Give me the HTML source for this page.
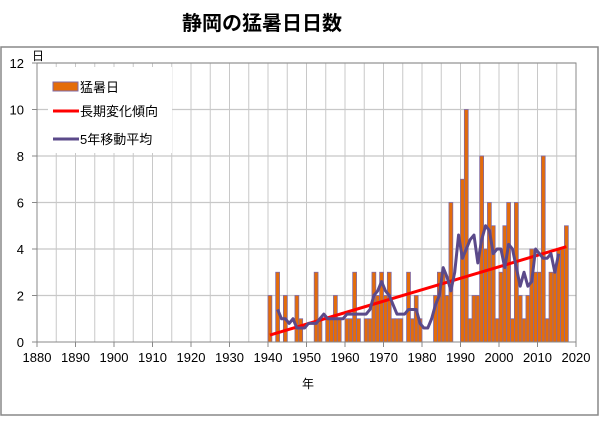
<!DOCTYPE html>
<html><head><meta charset="utf-8">
<style>
body{margin:0;background:#fff;width:600px;height:416px;overflow:hidden;font-family:"Liberation Sans","Noto Sans CJK JP",sans-serif;}
svg text{font-family:"Liberation Sans","Noto Sans CJK JP",sans-serif;}
</style></head>
<body>
<svg id="chart" width="600" height="416" xmlns="http://www.w3.org/2000/svg">
<text x="262" y="30" text-anchor="middle" font-size="20" font-weight="bold" fill="#000">静岡の猛暑日日数</text>
<rect x="1" y="47" width="597" height="368" fill="none" stroke="#888" stroke-width="1.5"/>
<g id="grid"></g>
<g id="bars"></g>
<g id="lines"></g>
<g id="axes"></g>
<g id="legend">
<rect x="48" y="67" width="124" height="86" fill="#fff"/>
<g><rect x="53" y="82" width="25" height="9" fill="#E46C0A" stroke="#7F6AA6"/><text x="80" y="92" font-size="13">猛暑日</text></g>
<g><line x1="53" y1="111" x2="79" y2="111" stroke="#FF0000" stroke-width="3"/><text x="80" y="116" font-size="13">長期変化傾向</text></g>
<g><line x1="53" y1="139" x2="79" y2="139" stroke="#5B4A8A" stroke-width="3"/><text x="80" y="144" font-size="13">5年移動平均</text></g>
</g>
</svg>
<script>
const years = [];
for (let y = 1940; y <= 2017; y++) years.push(y);
const days = [2,0,3,0,2,0,0,2,1,0, 0,0,3,1,0,1,1,2,1,0, 1,1,3,1,0,1,1,3,2,3, 2,3,1,1,1,0,3,1,2,1, 0,0,0,2,3,3,2,6,0,0, 7,10,1,2,2,8,4,6,5,1, 3,5,6,1,6,2,1,2,4,3, 3,8,1,3,3,4,4,5];
const trendYears = [1940, 2017];
const trendValues = [0.3, 4.1];
const yTicks = [0,2,4,6,8,10,12];
const xTicks = [1880,1890,1900,1910,1920,1930,1940,1950,1960,1970,1980,1990,2000,2010,2020];

const X0=37, X1=576, Y0=342, Y1=63;
const xs = v => X0 + (v-1880)*(X1-X0)/140;
const ys = v => Y0 - v*(Y0-Y1)/12;
const NS="http://www.w3.org/2000/svg";
function mk(tag, attrs, parent){const e=document.createElementNS(NS,tag);for(const k in attrs)e.setAttribute(k,attrs[k]);parent.appendChild(e);return e;}
const grid=document.getElementById('grid'), bars=document.getElementById('bars'), lines=document.getElementById('lines'), axes=document.getElementById('axes');
mk('rect',{x:X0,y:Y1,width:X1-X0,height:Y0-Y1,fill:'#fff'},grid);
for(let y=1885;y<2020;y+=5){const l=mk('line',{x1:xs(y),x2:xs(y),y1:Y1,y2:Y0,stroke:'#c8c8c8','stroke-width':1},grid);

}
yTicks.forEach(v=>{if(v>0){const l=mk('line',{x1:X0,x2:X1,y1:ys(v),y2:ys(v),stroke:'#c8c8c8','stroke-width':1.2},grid);

}
const tk=mk('line',{x1:X0-5,x2:X0,y1:ys(v),y2:ys(v),stroke:'#888'},axes);


const t=mk('text',{x:24,y:ys(v)+5,'text-anchor':'end','font-size':13,fill:'#000'},axes);t.textContent=v;

});
xTicks.forEach(v=>{const tk=mk('line',{x1:xs(v),x2:xs(v),y1:Y0,y2:Y0+5,stroke:'#888'},axes);


const t=mk('text',{x:xs(v),y:Y0+20,'text-anchor':'middle','font-size':13,fill:'#000'},axes);t.textContent=v;

});
const bx=mk('rect',{x:X0,y:Y1,width:X1-X0,height:Y0-Y1,fill:'none',stroke:'#888'},axes);


const yl=mk('text',{x:32,y:60,'font-size':12},axes);yl.textContent='日';


const xl=mk('text',{x:302,y:388,'font-size':12},axes);xl.textContent='年';


years.forEach((yr,i)=>{if(days[i]>0){const r=mk('rect',{x:xs(yr),y:ys(days[i]),width:xs(yr+1)-xs(yr),height:Y0-ys(days[i]),fill:'#E46C0A',stroke:'#7F6AA6','stroke-width':0.8},bars);

}});
const tr=mk('line',{x1:xs(trendYears[0]+0.5),y1:ys(trendValues[0]),x2:xs(trendYears[1]+0.5),y2:ys(trendValues[1]),stroke:'#FF0000','stroke-width':3},lines);


const pts=[];
for(let i=2;i<days.length-2;i++){let s=0;for(let j=-2;j<=2;j++)s+=days[i+j];pts.push(xs(years[i]+0.5)+','+ys(s/5));}
const ma=mk('polyline',{points:pts.join(' '),fill:'none',stroke:'#5B4A8A','stroke-width':3,'stroke-linejoin':'round'},lines);


</script>
</body></html>
